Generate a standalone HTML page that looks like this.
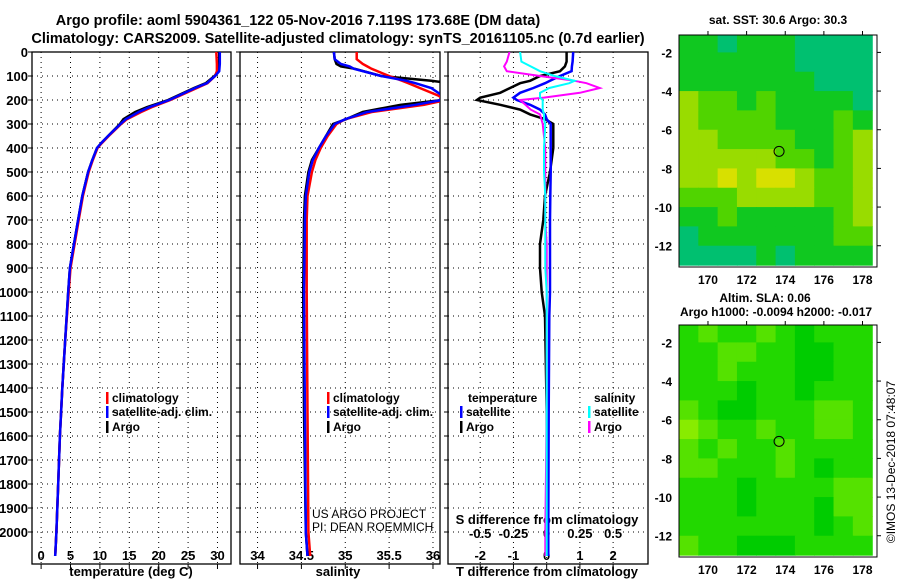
<!DOCTYPE html>
<html><head><meta charset="utf-8">
<style>
html,body{margin:0;padding:0;background:#fff;}
svg{display:block;font-family:"Liberation Sans",Arial,sans-serif;}
.b{font-weight:bold;}
</style></head>
<body>
<svg id="c" width="900" height="580" viewBox="0 0 900 580" xmlns="http://www.w3.org/2000/svg">
<text x="298" y="25" text-anchor="middle" class="b" font-size="14.5">Argo profile: aoml 5904361_122 05-Nov-2016 7.119S 173.68E (DM data)</text>
<text x="338" y="43" text-anchor="middle" class="b" font-size="14.5">Climatology: CARS2009. Satellite-adjusted climatology: synTS_20161105.nc (0.7d earlier)</text>
<text x="778" y="24" text-anchor="middle" class="b" font-size="12">sat. SST: 30.6 Argo: 30.3</text>
<text x="765" y="302" text-anchor="middle" class="b" font-size="12">Altim. SLA: 0.06</text>
<text x="776" y="316" text-anchor="middle" class="b" font-size="12">Argo h1000: -0.0094 h2000: -0.017</text>
<text transform="translate(895,462) rotate(-90)" text-anchor="middle" font-size="12">©IMOS 13-Dec-2018 07:48:07</text>
<g id="g"></g>
</svg>
<script>
// ---- profile data ----
const depthArgo = [0,50,80,100,130,150,200,230,250,280,300,350,380,400,450,500,600,700,800,900,1000,1200,1400,1600,1800,2000,2100];
const tempArgo  = [30.3,30.3,30.2,29.5,28,26,21.6,18,16,14,13.4,11.4,10.2,9.5,8.7,8,7,6.3,5.6,4.9,4.6,4.1,3.6,3.2,2.9,2.6,2.4];
const tempClim  = [29.8,29.9,29.9,29.6,28.3,26.5,22,18.8,17,14.6,13.6,11.5,10.3,9.6,8.8,8.1,7.1,6.4,5.7,5.0,4.7,4.1,3.6,3.2,2.9,2.6,2.4];
const tempSat   = [30.4,30.4,30.3,29.6,28.2,26.2,21.8,18.4,16.6,14.4,13.5,11.4,10.2,9.5,8.7,8,7,6.3,5.6,4.9,4.6,4.1,3.6,3.2,2.9,2.6,2.4];
const depthS    = [0,30,50,60,70,100,120,130,150,180,200,220,250,280,300,350,400,450,500,600,700,1000,1500,2000,2100];
const salArgo   = [34.87,34.88,34.9,34.95,35.11,35.41,35.98,36.2,36.3,36.3,36.1,35.63,35.2,35.01,34.86,34.78,34.7,34.62,34.58,34.54,34.53,34.52,34.53,34.55,34.57];
const salClim   = [35.13,35.13,35.2,35.25,35.3,35.5,35.65,35.72,35.85,36.05,36.15,35.9,35.3,35.0,34.9,34.8,34.72,34.66,34.62,34.57,34.56,34.56,34.57,34.58,34.6];
const salSat    = [34.87,34.88,34.95,35.05,35.1,35.41,35.7,35.8,35.98,36.1,36.1,35.8,35.25,35.0,34.88,34.78,34.7,34.63,34.59,34.55,34.54,34.53,34.54,34.55,34.57];
const depthD    = [0,40,60,80,100,120,130,150,170,190,200,220,240,260,280,300,400,500,600,700,800,900,1000,1100,1500,2000,2100];
const dTArgo    = [0.6,0.6,0.55,0.4,-0.2,-0.5,-0.8,-1.1,-1.4,-2.0,-2.1,-1.4,-0.8,-0.5,-0.05,0.2,0.2,0.1,-0.05,-0.1,-0.2,-0.2,-0.15,-0.05,0,0,0];
const dTSat     = [0.8,0.78,0.76,0.75,0.4,0.1,-0.05,-0.4,-0.8,-1.0,-0.9,-0.5,-0.2,-0.05,0.0,0.12,0.12,0.12,0.11,0.1,0.1,0.1,0.1,0.08,0.06,0.05,0.05];
const dSArgo    = [-0.28,-0.3,-0.32,-0.3,-0.05,0.21,0.3,0.4,0.25,-0.02,-0.2,-0.16,-0.12,-0.05,-0.04,-0.03,-0.01,-0.01,-0.01,-0.01,0,0,0,0,0,-0.01,-0.01];
const dSSat     = [-0.2,-0.19,-0.12,-0.05,0.06,0.21,0.17,0.02,-0.05,-0.05,-0.03,-0.03,-0.03,-0.02,-0.02,-0.01,-0.02,-0.02,-0.01,-0.01,-0.01,-0.01,0,0,0,0,0];
const depthTicks = [0,100,200,300,400,500,600,700,800,900,1000,1100,1200,1300,1400,1500,1600,1700,1800,1900,2000];
const tempTicks = [0,5,10,15,20,25,30];
const salTicks = [34,34.5,35,35.5,36];
const salTickLabels = ["34","34.5","35","35.5","36"];
const dTTicks = [-2,-1,0,1,2];
const dSTicks = [-0.5,-0.25,0,0.25,0.5];
const dSTickLabels = ["-0.5","-0.25","0","0.25","0.5"];
// ---- map data (1-degree cells, rows from lat -1 southward, cols from lon 168.5 eastward) ----
const sstGrid = [
[1,1,0,1,1,1,0,0,0,0],
[1,1,1,1,1,1,0,0,0,0],
[1,1,1,1,1,1,1,0,0,0],
[3,2,2,1,2,1,1,1,1,0],
[3,2,2,2,2,1,1,1,2,1],
[3,3,2,2,2,2,1,1,2,3],
[3,3,3,3,3,2,2,1,2,3],
[3,3,4,3,4,4,3,2,2,3],
[2,2,2,3,3,3,3,2,2,3],
[1,1,2,1,1,1,1,1,2,3],
[0,1,1,1,1,1,1,1,2,2],
[0,0,0,0,1,0,1,1,1,1]];
const slaGrid = [
[1,2,1,1,2,1,0,1,1,1],
[1,1,2,2,1,1,0,0,1,1],
[1,1,2,1,1,1,0,0,1,1],
[1,1,1,0,1,1,0,1,1,1],
[2,1,0,0,1,1,1,2,2,1],
[3,2,1,1,2,1,1,2,2,1],
[2,1,2,1,1,2,1,1,1,1],
[2,2,1,1,1,2,1,0,1,1],
[1,1,1,0,1,1,1,1,2,2],
[1,1,1,0,1,1,1,0,2,2],
[1,1,1,1,1,1,1,0,1,2],
[2,1,1,0,0,0,1,1,1,1]];
const sstColors = ["#00c070","#10c820","#50d400","#99dc00","#d8e000"];
const slaColors = ["#00cc00","#22d800","#55e200","#88ec00"];
const mapLonTicks = [170,172,174,176,178];
const mapLatTicks = [-2,-4,-6,-8,-10,-12];
const argoLon = 173.68, argoLat = -7.119;

const NS="http://www.w3.org/2000/svg";
const G=document.getElementById('g');
function mk(t,a,p){const e=document.createElementNS(NS,t);for(const k in a)e.setAttribute(k,a[k]);(p||G).appendChild(e);return e;}
function tx(x,y,s,opt){const e=mk('text',Object.assign({x:x,y:y,'font-size':13,'font-weight':'bold'},opt||{}));e.textContent=s;return e;}

const top0=52, bot=564;
const yD=d=>top0+d*0.24;
const panels=[
 {name:'temperature-panel',x0:32,x1:231,v0:-1.55,v1:32.3},
 {name:'salinity-panel',x0:240,x1:440,v0:33.8,v1:36.08},
 {name:'difference-panel',x0:448,x1:648,v0:-2.97,v1:3.05}
];
function xf(p){return v=>p.x0+(v-p.v0)/(p.v1-p.v0)*(p.x1-p.x0);}
const xT=xf(panels[0]), xS=xf(panels[1]), xDT=xf(panels[2]);
const xDS=s=>xDT(s*4);

depthTicks.forEach(d=>{const e=tx(28,yD(d)+5,String(d),{'text-anchor':'end'});

});

panels.forEach((p,i)=>{
 const grp=mk('g',{});
 
 
 depthTicks.forEach(d=>{if(d>0){const l=mk('line',{x1:p.x0,x2:p.x1,y1:yD(d),y2:yD(d),stroke:'#000','stroke-dasharray':'1,4','stroke-width':1},grp);
 
 }});
 const xs=i==0?tempTicks.map(xT):i==1?salTicks.map(xS):dTTicks.map(xDT);
 xs.forEach(x=>{const l=mk('line',{x1:x,x2:x,y1:top0,y2:bot,stroke:'#000','stroke-dasharray':'1,4'},grp);
 
 
 const t=mk('line',{x1:x,x2:x,y1:bot,y2:bot+5,stroke:'#000'},grp);
 
 });
 const r=mk('rect',{x:p.x0,y:top0,width:p.x1-p.x0,height:bot-top0,fill:'none',stroke:'#000','stroke-width':1.3},grp);
 
 
 for(const d of depthTicks){const t=mk('line',{x1:p.x0-4,x2:p.x0,y1:yD(d),y2:yD(d),stroke:'#000'},grp);
 
 }
});
tempTicks.forEach(v=>{const e=tx(xT(v),560,String(v),{'text-anchor':'middle'});

});
salTicks.forEach((v,i)=>{const e=tx(xS(v),560,salTickLabels[i],{'text-anchor':'middle'});

});
dTTicks.forEach(v=>{const e=tx(xDT(v),560,String(v),{'text-anchor':'middle'});

});
dSTicks.forEach((v,i)=>{const e=tx(xDS(v),538,dSTickLabels[i],{'text-anchor':'middle'});

});
let e;
e=tx(131,576,'temperature (deg C)',{'text-anchor':'middle'});
e=tx(338,576,'salinity',{'text-anchor':'middle'});
e=tx(547,576,'T difference from climatology',{'text-anchor':'middle'});
e=tx(547,524,'S difference from climatology',{'text-anchor':'middle'});
e=tx(312,518,'US ARGO PROJECT',{'font-weight':'normal','font-size':12});
e=tx(312,531,'PI: DEAN ROEMMICH',{'font-weight':'normal','font-size':12});

function line(xs,ds,fx,color,w,name,clipP){
 const pts=xs.map((v,i)=>fx(v).toFixed(1)+','+yD(ds[i]).toFixed(1)).join(' ');
 const l=mk('polyline',{points:pts,fill:'none',stroke:color,'stroke-width':w,'clip-path':'url(#'+clipP+')'});
 
 
}
const defs=mk('defs',{});
panels.forEach((p,i)=>{const cp=mk('clipPath',{id:'cp'+i},defs);mk('rect',{x:p.x0,y:top0,width:p.x1-p.x0,height:bot-top0},cp);});
line(tempArgo,depthArgo,xT,'#000',2.5,'temperature-argo-line','cp0');
line(tempClim,depthArgo,xT,'#f00',2.5,'temperature-climatology-line','cp0');
line(tempSat,depthArgo,xT,'#00f',2.5,'temperature-satellite-line','cp0');
line(salArgo,depthS,xS,'#000',2.5,'salinity-argo-line','cp1');
line(salClim,depthS,xS,'#f00',2.5,'salinity-climatology-line','cp1');
line(salSat,depthS,xS,'#00f',2.5,'salinity-satellite-line','cp1');
line(dTArgo,depthD,xDT,'#000',2.5,'t-diff-argo-line','cp2');
line(dTSat,depthD,xDT,'#00f',2.5,'t-diff-satellite-line','cp2');
line(dSArgo,depthD,xDS,'#f0f',2,'s-diff-argo-line','cp2');
line(dSSat,depthD,xDS,'#0ff',2,'s-diff-satellite-line','cp2');

function legend(x,y,color,label,name){
 const m=mk('rect',{x:x,y:y-10,width:2.5,height:12,fill:color});
 
 
 const t=tx(x+6,y,label,{'font-size':12});
 
 
}
legend(106,402,'#f00','climatology','legend-temp-climatology');
legend(106,416,'#00f','satellite-adj. clim.','legend-temp-satellite');
legend(106,431,'#000','Argo','legend-temp-argo');
legend(327,402,'#f00','climatology','legend-sal-climatology');
legend(327,416,'#00f','satellite-adj. clim.','legend-sal-satellite');
legend(327,431,'#000','Argo','legend-sal-argo');
e=tx(468,402,'temperature',{'font-size':12});
e=tx(594,402,'salinity',{'font-size':12});
legend(460,416,'#00f','satellite','legend-diff-t-satellite');
legend(460,431,'#000','Argo','legend-diff-t-argo');
legend(588,416,'#0ff','satellite','legend-diff-s-satellite');
legend(588,431,'#f0f','Argo','legend-diff-s-argo');

function drawMap(grid,colors,y0,y1,name){
 const x0=679,x1=877,lon0=168.5,lon1=178.75,lat0=-1.1,lat1=-13.1;
 const fx=l=>x0+(l-lon0)/(lon1-lon0)*(x1-x0);
 const fy=l=>y0+(l-lat0)/(lat1-lat0)*(y1-y0);
 const grp=mk('g',{});
 
 
 const cp=mk('clipPath',{id:'cl'+name},defs);mk('rect',{x:x0,y:y0,width:x1-x0,height:y1-y0},cp);
 const cg=mk('g',{'clip-path':'url(#cl'+name+')'},grp);
 grid.forEach((row,r)=>row.forEach((v,c)=>{
  const la=-1-r, lo=168.5+c;
  const rc=mk('rect',{x:fx(lo),y:fy(la),width:fx(lo+1)-fx(lo)+0.6,height:fy(la-1)-fy(la)+0.6,fill:colors[v]},cg);
  
  
 }));
 const fr=mk('rect',{x:x0,y:y0,width:x1-x0,height:y1-y0,fill:'none',stroke:'#000'},grp);
 
 
 mapLonTicks.forEach(l=>{mk('line',{x1:fx(l),x2:fx(l),y1:y0-4,y2:y0,stroke:'#000'},grp);
  const t=tx(fx(l),y1+17,String(l),{'text-anchor':'middle','font-size':12});
  
  });
 mapLatTicks.forEach(l=>{mk('line',{x1:x1,x2:x1+4,y1:fy(l),y2:fy(l),stroke:'#000'},grp);
  const t=tx(672,fy(l)+5,String(l),{'text-anchor':'end','font-size':12});
  
  });
 const c=mk('circle',{cx:fx(argoLon),cy:fy(argoLat),r:5,fill:'none',stroke:'#000'},grp);
 
 
}
drawMap(sstGrid,sstColors,35,267,'sst-map');
drawMap(slaGrid,slaColors,325,557,'sla-map');
</script>
</body></html>
